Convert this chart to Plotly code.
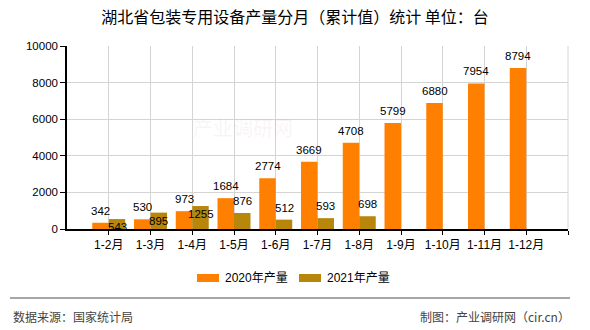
import plotly.graph_objects as go

categories = ["1-2月", "1-3月", "1-4月", "1-5月", "1-6月", "1-7月", "1-8月",
              "1-9月", "1-10月", "1-11月", "1-12月"]
values_2020 = [342, 530, 973, 1684, 2774, 3669, 4708, 5799, 6880, 7954, 8794]
values_2021 = [543, 895, 1255, 876, 512, 593, 698, None, None, None, None]
series_names = ["2020年产量", "2021年产量"]
title_text = "湖北省包装专用设备产量分月（累计值）统计 单位：台"
source_text = "数据来源：国家统计局"
maker_text = "制图：产业调研网（cir.cn）"

# styles
C2020 = "#FF8000"
C2021 = "#B8860B"
GRID = "#d4d4d4"
FONT = "Liberation Sans, Noto Sans CJK SC, sans-serif"
CJK = "Noto Sans CJK SC, sans-serif"
BARGAP = 0.21
# label placement: shift (px) from bar top for the 2021 labels
label_shift_2021 = [-8, -8, -8, 12, 12, 12, 12, 0, 0, 0, 0]

W, H = 590, 330
L, R, T, B = 67, 22, 46, 101
PW, PH = W - L - R, H - T - B


def px(x):
    return (x - L) / PW


def py(y):
    return (H - B - y) / PH


xs = list(range(len(categories)))

fig = go.Figure()
fig.add_trace(go.Bar(x=xs, y=values_2020, name=series_names[0],
                     marker_color=C2020, marker_line_width=0))
fig.add_trace(go.Bar(x=xs, y=values_2021, name=series_names[1],
                     marker_color=C2021, marker_line_width=0))

off = (1 - BARGAP) / 4
ann = []
# watermark (drawn first, faint)
ann.append(dict(x=px(243), y=py(127), xref="paper", yref="paper", text="产业调研网",
                showarrow=False, font=dict(family=CJK, size=20, color="rgba(210,160,160,0.12)")))

for i, v in enumerate(values_2020):
    ann.append(dict(x=i - off, y=v, xref="x", yref="y", text=str(v),
                    showarrow=False, yanchor="middle", yshift=12,
                    font=dict(family=FONT, size=11.5, color="#000")))
for i, v in enumerate(values_2021):
    if v is None:
        continue
    ann.append(dict(x=i + off, y=v, xref="x", yref="y", text=str(v),
                    showarrow=False, yanchor="middle", yshift=label_shift_2021[i],
                    font=dict(family=FONT, size=11.5, color="#000")))

# legend (manual)
legend_items = [(197, C2020, series_names[0]), (299, C2021, series_names[1])]
shapes = []
# right border of the plot area (grid colour)
shapes.append(dict(type="line", xref="paper", yref="paper", x0=1, x1=1, y0=0, y1=1,
                   line=dict(color=GRID, width=1), layer="below"))
for x0, col, name in legend_items:
    shapes.append(dict(type="rect", xref="paper", yref="paper",
                       x0=px(x0), x1=px(x0 + 22), y0=py(282), y1=py(274),
                       fillcolor=col, line_width=0))
    ann.append(dict(x=px(x0 + 26), y=py(278), xref="paper", yref="paper", text=name,
                    showarrow=False, xanchor="left", yanchor="middle",
                    font=dict(family=FONT, size=12, color="#000")))

# footer line and texts
shapes.append(dict(type="line", xref="paper", yref="paper",
                   x0=px(10), x1=px(570), y0=py(298), y1=py(298),
                   line=dict(color="#888888", width=1.5)))
ann.append(dict(x=px(11), y=py(316), xref="paper", yref="paper", text=source_text,
                showarrow=False, xanchor="left", yanchor="middle",
                font=dict(family=CJK, size=12, color="#444")))
ann.append(dict(x=px(572), y=py(316), xref="paper", yref="paper", text=maker_text,
                showarrow=False, xanchor="right", yanchor="middle",
                font=dict(family=CJK, size=12, color="#444")))

fig.update_layout(
    width=W, height=H,
    margin=dict(l=L, r=R, t=T, b=B, pad=0),
    paper_bgcolor="white", plot_bgcolor="white",
    barmode="group", bargap=BARGAP, bargroupgap=0,
    showlegend=False,
    title=dict(text=title_text, x=0.5, xref="container", xanchor="center",
               y=1 - 17 / H, yref="container", yanchor="middle",
               font=dict(family=CJK, size=16, color="#000")),
    font=dict(family=FONT, size=12, color="#000"),
    annotations=ann,
    shapes=shapes,
    xaxis=dict(range=[-1, len(categories)], tickmode="array",
               tickvals=list(range(len(categories) + 1)),
               ticktext=categories + [""],
               showgrid=True, gridcolor=GRID, gridwidth=1,
               showline=True, linecolor="#000", linewidth=1.5,
               ticks="outside", ticklen=4, tickcolor="#000",
               tickfont=dict(family=FONT, size=12, color="#000"),
               zeroline=False, fixedrange=True),
    yaxis=dict(range=[0, 10000], dtick=2000, tick0=0, tickformat="d",
               showgrid=True, gridcolor=GRID, gridwidth=1,
               showline=True, linecolor="#000", linewidth=1.5,
               ticks="outside", ticklen=5, tickcolor="#000",
               tickfont=dict(family=FONT, size=11.5, color="#000"),
               zeroline=False, fixedrange=True),
)

fig.write_html("out.html")
